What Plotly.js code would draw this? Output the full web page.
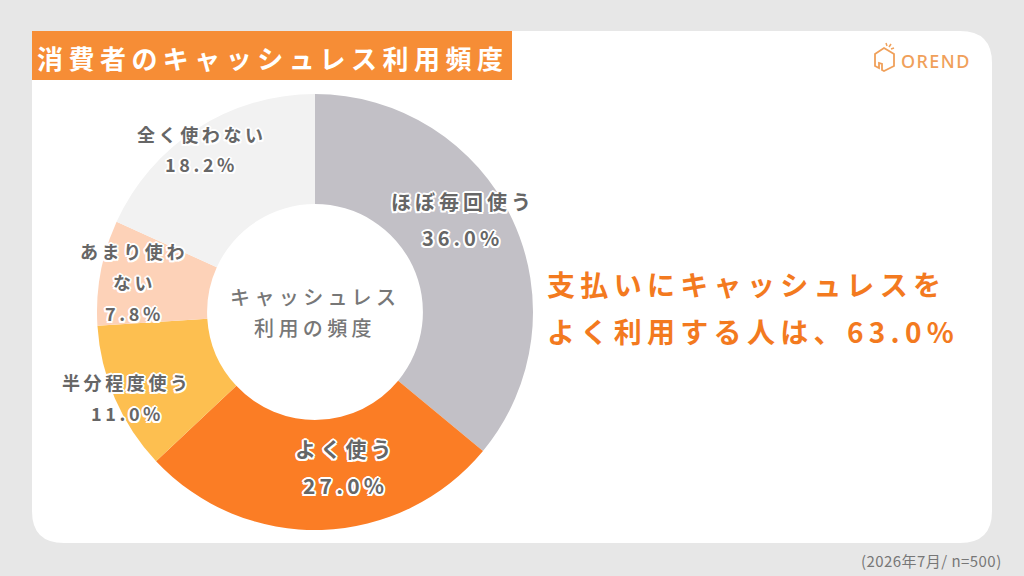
<!DOCTYPE html>
<html>
<head>
<meta charset="utf-8">
<script src="https://cdn.plot.ly/plotly-3.0.1.min.js"></script>
<style>
  html, body { margin: 0; padding: 0; background: #e7e7e7; }
  #chart { width: 1024px; height: 576px; }
</style>
</head>
<body>
<div id="chart"></div>
<script>
// ---- data ----
const categories = ['ほぼ毎回使う', 'よく使う', '半分程度使う', 'あまり使わない', '全く使わない'];
const shares = [36.0, 27.0, 11.0, 7.8, 18.2];
const labelLines = [['ほぼ毎回使う'], ['よく使う'], ['半分程度使う'], ['あまり使わ', 'ない'], ['全く使わない']];
const chartTitle = '消費者のキャッシュレス利用頻度';
const centerLines = ['キャッシュレス', '利用の頻度'];
const calloutLines = ['支払いにキャッシュレスを', 'よく利用する人は、63.0%'];
const footnote = '(2026年7月/ n=500)';
const brand = 'OREND';

// ---- style ----
const sliceColors = ['#c2c0c6', '#fb7d25', '#fdbf50', '#fdd2b8', '#f2f2f2'];
// per-slice label placement: radius as fraction of outer radius, angle tweak (deg), font size, line gap (px)
const labelStyle = [
  { r: 0.80, da: -7, size: 20, gap: 36 },
  { r: 0.725, da: -9.5, size: 21, gap: 37 },
  { r: 0.945, da: -1, size: 18, gap: 31 },
  { r: 0.84, da: -1, size: 18, gap: 31 },
  { r: 0.91, da: -2, size: 18, gap: 30 }
];
const W = 1024, H = 576;
const CX = 315, CY = 312, R = 218, HOLE = 0.495;
const FONT = '"Noto Sans CJK JP", "Noto Sans", sans-serif';

const px = x => x / W;
const py = y => 1 - y / H;
const ls = (t, em) => `<span style="letter-spacing:${em}em">${t}</span>`;
const outline = '-1.5px -1.5px 0 #fff, 1.5px -1.5px 0 #fff, -1.5px 1.5px 0 #fff, 1.5px 1.5px 0 #fff, 0 2px 0 #fff, 0 -2px 0 #fff, 2px 0 0 #fff, -2px 0 0 #fff';

function roundRect(x0, y0, x1, y1, r) {
  const P = (x, y) => `${px(x)},${py(y)}`;
  return `M ${P(x0 + r, y0)} L ${P(x1 - r, y0)} Q ${P(x1, y0)} ${P(x1, y0 + r)} ` +
         `L ${P(x1, y1 - r)} Q ${P(x1, y1)} ${P(x1 - r, y1)} ` +
         `L ${P(x0 + r, y1)} Q ${P(x0, y1)} ${P(x0, y1 - r)} ` +
         `L ${P(x0, y0 + r)} Q ${P(x0, y0)} ${P(x0 + r, y0)} Z`;
}
function polyPath(pts, close) {
  return pts.map((p, i) => (i ? 'L ' : 'M ') + px(p[0]) + ',' + py(p[1])).join(' ') + (close ? ' Z' : '');
}

const shapes = [
  { type: 'path', xref: 'paper', yref: 'paper', layer: 'below', path: roundRect(32, 31, 992, 543, 32),
    fillcolor: '#ffffff', line: { width: 0 } },
  { type: 'rect', xref: 'paper', yref: 'paper', layer: 'below', x0: px(32), x1: px(512), y0: py(80), y1: py(31),
    fillcolor: '#f68d36', line: { width: 0 } },
  // brand icon
  { type: 'path', xref: 'paper', yref: 'paper', layer: 'above',
    path: polyPath([[884, 48], [894, 54], [894, 66], [884, 71], [882, 70], [882, 64], [879, 63], [879, 68], [875, 66], [875, 54]], true),
    fillcolor: 'rgba(0,0,0,0)', line: { color: '#f0a05a', width: 1.8 } },
  { type: 'path', xref: 'paper', yref: 'paper', layer: 'above', path: polyPath([[887, 46], [886, 43]], false), line: { color: '#f0a05a', width: 1.5 } },
  { type: 'path', xref: 'paper', yref: 'paper', layer: 'above', path: polyPath([[889, 47], [891, 44]], false), line: { color: '#f0a05a', width: 1.5 } },
  { type: 'path', xref: 'paper', yref: 'paper', layer: 'above', path: polyPath([[891, 49], [894, 48]], false), line: { color: '#f0a05a', width: 1.5 } }
];

const annotations = [];
// slice labels
let cum = 0;
const total = shares.reduce((a, b) => a + b, 0);
shares.forEach((v, i) => {
  const mid = (cum + v / 2) / total;
  cum += v;
  const st = labelStyle[i];
  const th = (mid * 360 + st.da) * Math.PI / 180;
  const lx = CX + st.r * R * Math.sin(th);
  const ly = CY - st.r * R * Math.cos(th);
  const lines = labelLines[i].concat([v.toFixed(1) + '%']);
  lines.forEach((t, k) => {
    const y = ly + (k - (lines.length - 1) / 2) * st.gap;
    annotations.push({
      xref: 'paper', yref: 'paper', x: px(lx), y: py(y), xanchor: 'center', yanchor: 'middle',
      showarrow: false, text: ls(t, 0.2),
      font: { family: FONT, size: st.size, color: '#666666', weight: 700, shadow: outline }
    });
  });
});
// center text
centerLines.forEach((t, k) => {
  annotations.push({
    xref: 'paper', yref: 'paper', x: px(CX), y: py(296 + k * 31), xanchor: 'center', yanchor: 'middle',
    showarrow: false, text: ls(t, 0.22), font: { family: FONT, size: 20, color: '#777777', weight: 500 }
  });
});
// title
annotations.push({
  xref: 'paper', yref: 'paper', x: px(272), y: py(57), xanchor: 'center', yanchor: 'middle',
  showarrow: false, text: ls(chartTitle, 0.21), font: { family: FONT, size: 26, color: '#ffffff', weight: 700 }
});
// callout
calloutLines.forEach((t, k) => {
  annotations.push({
    xref: 'paper', yref: 'paper', x: px(545), y: py(284 + k * 47), xanchor: 'left', yanchor: 'middle',
    showarrow: false, text: ls(t, 0.19), font: { family: FONT, size: 28, color: '#f37a1f', weight: 700 }
  });
});
// brand
annotations.push({
  xref: 'paper', yref: 'paper', x: px(899), y: py(61), xanchor: 'left', yanchor: 'middle',
  showarrow: false, text: ls(brand, 0.08), font: { family: '"Noto Sans", sans-serif', size: 18, color: '#f0a05a', weight: 500 }
});
// footnote
annotations.push({
  xref: 'paper', yref: 'paper', x: px(1004), y: py(560), xanchor: 'right', yanchor: 'middle',
  showarrow: false, text: ls(footnote, 0.03), font: { family: FONT, size: 15, color: '#777777' }
});

const trace = {
  type: 'pie',
  labels: categories,
  values: shares,
  sort: false,
  direction: 'clockwise',
  rotation: 0,
  hole: HOLE,
  marker: { colors: sliceColors, line: { width: 0 } },
  textinfo: 'none',
  hoverinfo: 'skip',
  showlegend: false,
  domain: { x: [px(CX - R), px(CX + R)], y: [py(CY + R), py(CY - R)] }
};

const layout = {
  width: W, height: H,
  margin: { l: 0, r: 0, t: 0, b: 0 },
  paper_bgcolor: '#e7e7e7',
  showlegend: false,
  shapes: shapes,
  annotations: annotations
};

Plotly.newPlot('chart', [trace], layout, { displayModeBar: false, staticPlot: true });
</script>
</body>
</html>
